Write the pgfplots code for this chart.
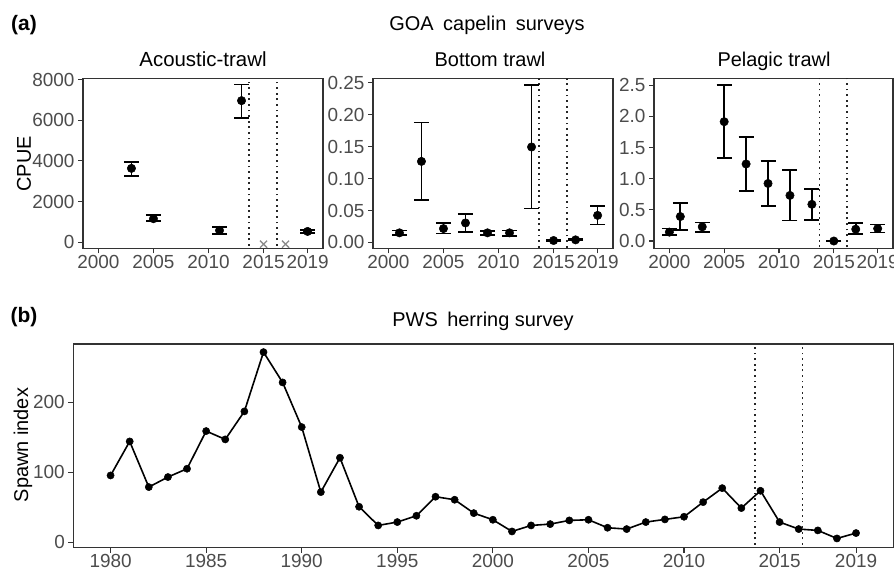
\documentclass[border=0pt]{standalone}
\usepackage{pgfplots}
\pgfplotsset{compat=1.18}
\usepackage{pgfplotstable}
\usepackage{fontspec}
\setmainfont{Liberation Sans}

\definecolor{frame}{gray}{0.2}
\definecolor{ticklab}{gray}{0.3}

\pgfplotstableread{
x y ep em
2003 3630 295 365
2005 1155 165 130
2011 577 165 165
2013 6960 790 840
2019 528 90 90
}\acoustic

\pgfplotstableread{
x y ep em
2001 0.015 0.0036 0.0036
2003 0.127 0.061 0.060
2005 0.0217 0.0083 0.0077
2007 0.0305 0.014 0.0139
2009 0.015 0.0026 0.0036
2011 0.015 0.0036 0.0046
2013 0.1496 0.0968 0.0963
2015 0.003 0.001 0.001
2017 0.004 0.001 0.001
2019 0.0424 0.0151 0.0144
}\bottomtrawl

\pgfplotstableread{
x y ep em
2000 0.143 0.057 0.047
2001 0.393 0.212 0.213
2003 0.228 0.069 0.079
2005 1.916 0.584 0.579
2007 1.237 0.435 0.437
2009 0.924 0.366 0.361
2011 0.732 0.408 0.403
2013 0.589 0.244 0.249
2015 0.0 0.005 0.005
2017 0.19 0.097 0.073
2019 0.20 0.065 0.062
}\pelagic

\pgfplotstableread{
x y
1980 95.2
1981 143.8
1982 78.6
1983 92.9
1984 104.8
1985 158.6
1986 146.7
1987 186.7
1988 271.4
1989 228.1
1990 164.3
1991 71.4
1992 120.5
1993 50.5
1994 23.8
1995 28.6
1996 37.6
1997 64.8
1998 60.5
1999 41.4
2000 31.9
2001 15.2
2002 23.8
2003 25.7
2004 31.0
2005 31.9
2006 20.5
2007 18.6
2008 28.6
2009 32.4
2010 36.2
2011 57.1
2012 77.1
2013 48.6
2014 73.3
2015 28.6
2016 18.6
2017 16.7
2018 5.2
2019 12.9
}\herring

\pgfplotsset{
  myaxis/.style={
    scale only axis,
    axis line style={draw=frame, line width=1.2bp},
    tick align=outside,
    xtick pos=bottom, ytick pos=left,
    major tick length=5bp,
    tick style={draw=frame, line width=1.1bp},
    ticklabel style={font=\fontsize{19}{21}\selectfont, text=ticklab},
    xticklabel style={inner ysep=1.5bp},
    /pgf/number format/assume math mode=true,
    /pgf/number format/1000 sep={},
    scaled ticks=false,
  },
  ebar/.style={only marks, mark=*, mark size=4.2bp, black, line width=1.8bp,
    mark options={line width=0.5bp},
    error bars/.cd, y dir=both, y explicit,
    error bar style={line width=1.8bp, black},
    error mark options={line width=1.8bp, black, mark size=7.5bp, rotate=90}},
  vline/.style={draw=black!85, line width=1.8bp, dash pattern=on 1.8bp off 3.8bp},
}

\begin{document}
\begin{tikzpicture}[x=1bp,y=1bp]
\useasboundingbox (0,0) rectangle (894,570);

% Panel titles and labels
\node[anchor=base, font=\bfseries\fontsize{21}{24}\selectfont] at (24,539) {(a)};
\node[anchor=base, font=\fontsize{20}{22}\selectfont] at (487,539) {GOA\hspace{4bp} capelin\hspace{4bp} surveys};
\node[anchor=base, font=\fontsize{20.5}{22}\selectfont] at (203,503) {Acoustic-trawl};
\node[anchor=base, font=\fontsize{20}{22}\selectfont] at (490,503) {Bottom trawl};
\node[anchor=base, font=\fontsize{20}{22}\selectfont] at (774,503) {Pelagic trawl};
\node[rotate=90, font=\fontsize{20}{22}\selectfont] at (24,406) {CPUE};

\node[anchor=base, font=\bfseries\fontsize{21}{24}\selectfont] at (24,247) {(b)};
\node[anchor=base, font=\fontsize{20}{22}\selectfont] at (483,243) {PWS\hspace{4bp} herring survey};
\node[rotate=90, font=\fontsize{20}{22}\selectfont] at (23,125) {Spawn index};

% Acoustic-trawl
\begin{axis}[myaxis, at={(83bp,321.5bp)}, anchor=south west, width=240bp, height=170bp,
  xmin=1998.6, xmax=2020.4, ymin=-310, ymax=8050,
  xtick={2000,2005,2010,2015,2019}, ytick={0,2000,4000,6000,8000}]
\addplot[vline] coordinates {(2013.7,-1000) (2013.7,10000)};
\addplot[vline] coordinates {(2016.2,-1000) (2016.2,10000)};
\addplot[only marks, mark=x, mark size=5bp, draw=black!45, mark options={line width=1.3bp}] coordinates {(2015,-100) (2017,-100)};
\addplot[ebar] table[x=x, y=y, y error plus=ep, y error minus=em] {\acoustic};
\end{axis}

% Bottom trawl
\begin{axis}[myaxis, at={(373bp,321.5bp)}, anchor=south west, width=240bp, height=170bp,
  xmin=1998.6, xmax=2020.4, ymin=-0.0095, ymax=0.257,
  xtick={2000,2005,2010,2015,2019}, ytick={0,0.05,0.10,0.15,0.20,0.25},
  yticklabel style={/pgf/number format/.cd, fixed, fixed zerofill, precision=2}]
\addplot[vline] coordinates {(2013.7,-1) (2013.7,1)};
\addplot[vline] coordinates {(2016.2,-1) (2016.2,1)};
\addplot[ebar] table[x=x, y=y, y error plus=ep, y error minus=em] {\bottomtrawl};
\end{axis}

% Pelagic trawl
\begin{axis}[myaxis, at={(654bp,321.5bp)}, anchor=south west, width=239bp, height=170bp,
  xmin=1998.6, xmax=2020.4, ymin=-0.12, ymax=2.61,
  xtick={2000,2005,2010,2015,2019}, ytick={0,0.5,1.0,1.5,2.0,2.5},
  yticklabel style={/pgf/number format/.cd, fixed, fixed zerofill, precision=1}]
\addplot[vline] coordinates {(2013.7,-1) (2013.7,5)};
\addplot[vline] coordinates {(2016.2,-1) (2016.2,5)};
\addplot[ebar] table[x=x, y=y, y error plus=ep, y error minus=em] {\pelagic};
\end{axis}

% PWS herring
\begin{axis}[myaxis, at={(73.3bp,22.3bp)}, anchor=south west, width=820bp, height=203.7bp,
  xmin=1978.05, xmax=2020.95, ymin=-8, ymax=283,
  xtick={1980,1985,1990,1995,2000,2005,2010,2015,2019}, ytick={0,100,200}]
\addplot[vline] coordinates {(2013.7,-100) (2013.7,400)};
\addplot[vline] coordinates {(2016.2,-100) (2016.2,400)};
\addplot[black, line width=1.6bp, mark=*, mark size=3.6bp, mark options={line width=0.5bp}] table[x=x, y=y] {\herring};
\end{axis}
\end{tikzpicture}
\end{document}
